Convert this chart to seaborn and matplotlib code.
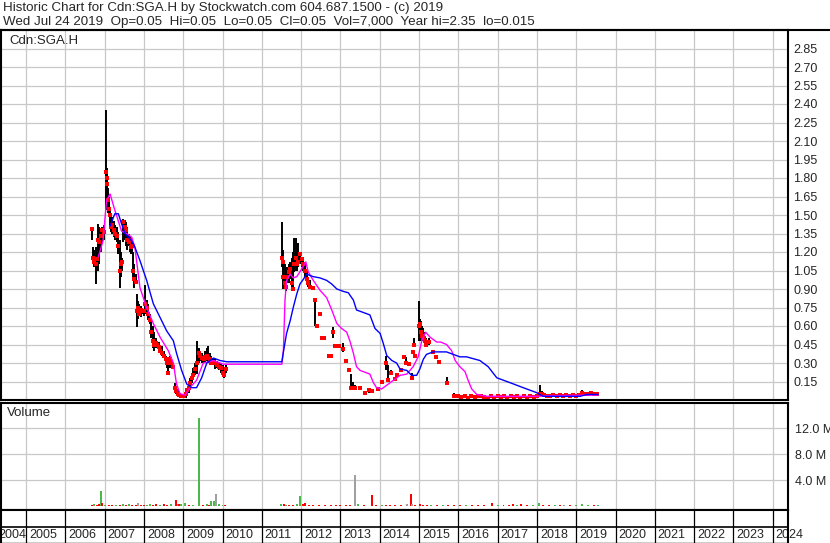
import numpy as np
import pandas as pd
import matplotlib.pyplot as plt
import seaborn as sns

# header text
title_line = "Historic Chart for Cdn:SGA.H by Stockwatch.com 604.687.1500 - (c) 2019"
quote_line = "Wed Jul 24 2019  Op=0.05  Hi=0.05  Lo=0.05  Cl=0.05  Vol=7,000  Year hi=2.35  lo=0.015"
symbol = "Cdn:SGA.H"

year_labels = [2004, 2005, 2006, 2007, 2008, 2009, 2010, 2011, 2012, 2013, 2014,
               2015, 2016, 2017, 2018, 2019, 2020, 2021, 2022, 2023, 2024]
price_ticks = [0.15, 0.30, 0.45, 0.60, 0.75, 0.90, 1.05, 1.20, 1.35, 1.50,
               1.65, 1.80, 1.95, 2.10, 2.25, 2.40, 2.55, 2.70, 2.85]
vol_ticks = [4.0, 8.0, 12.0]  # millions

# daily bars (decimal year, high, low, close)
bar_date = [2006.67, 2006.70, 2006.72, 2006.77, 2006.80, 2006.84, 2006.87, 2006.90, 2006.94, 2006.98,
            2007.03, 2007.05, 2007.07, 2007.09, 2007.11, 2007.14, 2007.17, 2007.20, 2007.23, 2007.27,
            2007.31, 2007.35, 2007.38, 2007.41, 2007.45, 2007.48, 2007.51, 2007.54, 2007.58, 2007.61,
            2007.64, 2007.67, 2007.70, 2007.73, 2007.76, 2007.79, 2007.82, 2007.85, 2007.88, 2007.92,
            2007.95, 2008.00, 2008.04, 2008.08, 2008.11, 2008.15, 2008.18, 2008.22, 2008.26, 2008.30,
            2008.34, 2008.38, 2008.42, 2008.46, 2008.50, 2008.55, 2008.58, 2008.62, 2008.66, 2008.70,
            2008.74, 2008.78, 2008.82, 2008.86, 2008.90, 2008.94, 2008.98, 2009.02, 2009.06, 2009.10,
            2009.14, 2009.18, 2009.22, 2009.26, 2009.30, 2009.35, 2009.40, 2009.44, 2009.48, 2009.52,
            2009.56, 2009.60, 2009.64, 2009.68, 2009.72, 2009.76, 2009.80, 2009.85, 2009.90, 2009.95,
            2010.00, 2010.04, 2010.08,
            2011.51, 2011.53, 2011.55, 2011.58, 2011.61, 2011.64, 2011.68, 2011.72, 2011.76, 2011.80,
            2011.83, 2011.86, 2011.89, 2011.93, 2011.97, 2012.02, 2012.06, 2012.10, 2012.14, 2012.18,
            2012.22, 2012.30, 2012.36, 2012.40, 2012.48, 2012.52, 2012.58, 2012.70, 2012.75, 2012.80,
            2012.85, 2012.96, 2013.07, 2013.13, 2013.22, 2013.27, 2013.32, 2013.38, 2013.50, 2013.63,
            2013.73, 2013.80, 2013.95, 2014.05, 2014.15, 2014.20, 2014.30, 2014.40, 2014.45, 2014.55,
            2014.62, 2014.67, 2014.74, 2014.82, 2014.86, 2014.88, 2014.90, 2015.01, 2015.03, 2015.05,
            2015.07, 2015.09, 2015.12, 2015.15, 2015.19, 2015.26, 2015.35, 2015.43, 2015.50, 2015.70,
            2015.90, 2016.00, 2016.08, 2016.16, 2016.25, 2016.33, 2016.42, 2016.50, 2016.58, 2016.66,
            2016.75, 2016.83, 2016.92, 2017.00, 2017.08, 2017.17, 2017.25, 2017.33, 2017.42, 2017.50,
            2017.58, 2017.67, 2017.75, 2017.83, 2017.92, 2018.00, 2018.08, 2018.12, 2018.17, 2018.25,
            2018.33, 2018.42, 2018.50, 2018.58, 2018.67, 2018.75, 2018.83, 2018.92, 2019.00, 2019.08,
            2019.16, 2019.22, 2019.30, 2019.38, 2019.46, 2019.54]
bar_high = [1.39, 1.24, 1.22, 1.24, 1.20, 1.43, 1.40, 1.38, 1.40, 1.42,
            2.35, 1.88, 1.80, 1.72, 1.65, 1.55, 1.52, 1.48, 1.45, 1.42,
            1.40, 1.36, 1.30, 1.20, 1.15, 1.47, 1.46, 1.44, 1.40, 1.35,
            1.32, 1.30, 1.28, 1.20, 1.10, 1.02, 0.86, 0.80, 0.78, 0.76,
            0.75, 0.74, 0.93, 0.81, 0.78, 0.70, 0.65, 0.60, 0.55, 0.50,
            0.48, 0.47, 0.45, 0.44, 0.40, 0.36, 0.32, 0.30, 0.36, 0.34,
            0.30, 0.14, 0.10, 0.08, 0.06, 0.05, 0.05, 0.04, 0.06, 0.10,
            0.14, 0.18, 0.22, 0.26, 0.30, 0.48, 0.42, 0.40, 0.38, 0.36,
            0.40, 0.42, 0.44, 0.38, 0.36, 0.34, 0.33, 0.32, 0.31, 0.30,
            0.28, 0.26, 0.28,
            1.44, 1.22, 1.15, 1.10, 1.05, 1.08, 1.10, 1.12, 1.15, 1.20,
            1.31, 1.31, 1.20, 1.27, 1.20, 1.16, 1.15, 1.12, 1.05, 1.00,
            0.97, 0.92, 0.81, 0.62, 0.70, 0.50, 0.50, 0.37, 0.37, 0.59,
            0.44, 0.44, 0.46, 0.32, 0.24, 0.21, 0.15, 0.12, 0.10, 0.06,
            0.09, 0.08, 0.09, 0.16, 0.36, 0.28, 0.24, 0.17, 0.20, 0.24,
            0.35, 0.35, 0.29, 0.22, 0.39, 0.50, 0.36, 0.80, 0.66, 0.64,
            0.60, 0.58, 0.55, 0.52, 0.50, 0.50, 0.39, 0.35, 0.31, 0.19,
            0.06, 0.035, 0.03, 0.035, 0.03, 0.04, 0.035, 0.03, 0.04, 0.035,
            0.03, 0.035, 0.03, 0.035, 0.03, 0.035, 0.03, 0.035, 0.03, 0.04,
            0.03, 0.035, 0.03, 0.035, 0.03, 0.035, 0.12, 0.07, 0.05, 0.045,
            0.04, 0.045, 0.04, 0.045, 0.04, 0.045, 0.04, 0.045, 0.04, 0.05,
            0.08, 0.06, 0.06, 0.06, 0.055, 0.055]
bar_low = [1.30, 1.10, 1.08, 0.94, 1.05, 1.05, 1.10, 1.20, 1.28, 1.30,
           1.54, 1.62, 1.58, 1.52, 1.50, 1.40, 1.36, 1.35, 1.32, 1.30,
           1.28, 1.18, 0.91, 1.00, 1.05, 1.28, 1.30, 1.25, 1.22, 1.25,
           1.20, 1.18, 1.20, 1.00, 0.91, 0.94, 0.59, 0.66, 0.68, 0.67,
           0.70, 0.68, 0.70, 0.68, 0.65, 0.62, 0.50, 0.42, 0.40, 0.42,
           0.42, 0.40, 0.38, 0.36, 0.34, 0.30, 0.26, 0.21, 0.26, 0.28,
           0.25, 0.08, 0.05, 0.04, 0.03, 0.02, 0.02, 0.015, 0.02, 0.04,
           0.06, 0.10, 0.14, 0.16, 0.20, 0.21, 0.30, 0.32, 0.30, 0.30,
           0.30, 0.32, 0.30, 0.30, 0.28, 0.28, 0.25, 0.26, 0.24, 0.22,
           0.20, 0.18, 0.22,
           1.08, 1.05, 0.90, 0.90, 0.88, 0.95, 0.95, 0.98, 0.92, 0.88,
           1.04, 1.05, 1.05, 1.08, 1.10, 1.08, 1.05, 1.00, 0.95, 0.92,
           0.90, 0.90, 0.60, 0.58, 0.70, 0.50, 0.50, 0.35, 0.35, 0.50,
           0.44, 0.44, 0.39, 0.32, 0.24, 0.09, 0.09, 0.08, 0.10, 0.06,
           0.06, 0.06, 0.09, 0.13, 0.24, 0.15, 0.20, 0.17, 0.20, 0.24,
           0.35, 0.30, 0.29, 0.17, 0.39, 0.43, 0.36, 0.48, 0.50, 0.48,
           0.48, 0.48, 0.46, 0.44, 0.44, 0.45, 0.39, 0.35, 0.30, 0.13,
           0.02, 0.02, 0.02, 0.025, 0.015, 0.02, 0.02, 0.02, 0.025, 0.02,
           0.02, 0.02, 0.015, 0.02, 0.02, 0.025, 0.015, 0.02, 0.02, 0.02,
           0.015, 0.02, 0.01, 0.02, 0.02, 0.02, 0.035, 0.03, 0.03, 0.025,
           0.02, 0.025, 0.02, 0.03, 0.02, 0.03, 0.02, 0.03, 0.03, 0.03,
           0.04, 0.045, 0.04, 0.045, 0.04, 0.045]
bar_close = [1.39, 1.15, 1.12, 1.10, 1.14, 1.30, 1.28, 1.33, 1.38, 1.36,
             1.85, 1.80, 1.75, 1.62, 1.55, 1.50, 1.40, 1.42, 1.38, 1.35,
             1.33, 1.25, 1.05, 1.10, 1.12, 1.44, 1.40, 1.38, 1.30, 1.28,
             1.30, 1.24, 1.25, 1.05, 0.98, 0.96, 0.72, 0.75, 0.70, 0.73,
             0.72, 0.72, 0.78, 0.75, 0.70, 0.65, 0.55, 0.48, 0.45, 0.46,
             0.45, 0.43, 0.40, 0.38, 0.36, 0.33, 0.30, 0.22, 0.33, 0.30,
             0.27, 0.10, 0.07, 0.05, 0.04, 0.03, 0.03, 0.03, 0.05, 0.08,
             0.10, 0.14, 0.18, 0.20, 0.25, 0.30, 0.38, 0.36, 0.34, 0.33,
             0.35, 0.36, 0.34, 0.33, 0.30, 0.31, 0.30, 0.28, 0.27, 0.26,
             0.22, 0.20, 0.25,
             1.15, 1.12, 1.00, 0.95, 0.92, 1.00, 1.04, 1.06, 0.95, 0.90,
             1.10, 1.15, 1.10, 1.12, 1.18, 1.14, 1.10, 1.05, 0.98, 0.95,
             0.92, 0.91, 0.81, 0.60, 0.70, 0.50, 0.50, 0.36, 0.36, 0.55,
             0.44, 0.44, 0.41, 0.32, 0.24, 0.10, 0.10, 0.10, 0.10, 0.06,
             0.08, 0.07, 0.09, 0.15, 0.30, 0.16, 0.22, 0.17, 0.20, 0.24,
             0.35, 0.30, 0.29, 0.18, 0.39, 0.45, 0.36, 0.60, 0.62, 0.55,
             0.52, 0.50, 0.50, 0.48, 0.45, 0.47, 0.39, 0.35, 0.31, 0.14,
             0.03, 0.03, 0.025, 0.03, 0.02, 0.03, 0.025, 0.03, 0.03, 0.025,
             0.02, 0.03, 0.02, 0.03, 0.025, 0.03, 0.02, 0.03, 0.025, 0.03,
             0.02, 0.03, 0.02, 0.03, 0.025, 0.03, 0.05, 0.05, 0.04, 0.035,
             0.03, 0.04, 0.03, 0.04, 0.03, 0.04, 0.03, 0.04, 0.035, 0.04,
             0.06, 0.05, 0.05, 0.055, 0.05, 0.05]

# short moving average (magenta)
ma_short_date = [2006.84, 2006.96, 2007.05, 2007.14, 2007.26, 2007.43, 2007.56, 2007.69, 2007.77, 2007.90,
                 2008.07, 2008.24, 2008.41, 2008.62, 2008.75, 2008.83, 2008.92, 2009.05, 2009.17, 2009.34,
                 2009.51, 2009.77, 2010.02, 2010.11, 2011.51, 2011.55, 2011.59, 2011.63, 2011.72, 2011.80,
                 2011.89, 2012.01, 2012.12, 2012.18, 2012.31, 2012.48, 2012.65, 2012.78, 2012.91, 2013.03,
                 2013.16, 2013.24, 2013.33, 2013.41, 2013.50, 2013.75, 2013.84, 2013.92, 2014.05, 2014.18,
                 2014.35, 2014.52, 2014.69, 2014.85, 2014.98, 2015.07, 2015.17, 2015.28, 2015.45, 2015.55,
                 2015.70, 2015.83, 2015.92, 2016.04, 2016.17, 2016.25, 2016.34, 2016.47, 2016.72, 2018.08,
                 2018.25, 2019.56]
ma_short = [1.16, 1.29, 1.62, 1.67, 1.54, 1.37, 1.35, 1.32, 1.24, 0.91,
            0.75, 0.62, 0.51, 0.40, 0.30, 0.13, 0.05, 0.04, 0.10, 0.16,
            0.30, 0.32, 0.29, 0.29, 0.29, 0.40, 0.81, 0.97, 1.02, 0.99,
            1.00, 1.06, 1.12, 1.04, 0.97, 0.89, 0.83, 0.73, 0.62, 0.58,
            0.55, 0.48, 0.38, 0.27, 0.24, 0.21, 0.14, 0.10, 0.09, 0.12,
            0.16, 0.20, 0.21, 0.27, 0.35, 0.48, 0.55, 0.51, 0.47, 0.47,
            0.45, 0.40, 0.32, 0.27, 0.23, 0.16, 0.09, 0.045, 0.03, 0.03,
            0.035, 0.04]

# long moving average (blue)
ma_long_date = [2007.14, 2007.26, 2007.35, 2007.43, 2007.52, 2007.69, 2007.77, 2007.90, 2008.07, 2008.24,
                2008.41, 2008.58, 2008.75, 2008.83, 2008.96, 2009.09, 2009.21, 2009.34, 2009.47, 2009.60,
                2009.77, 2009.94, 2010.11, 2011.51, 2011.55, 2011.63, 2011.72, 2011.80, 2011.89, 2011.97,
                2012.06, 2012.14, 2012.31, 2012.48, 2012.65, 2012.78, 2012.91, 2013.08, 2013.20, 2013.33,
                2013.41, 2013.58, 2013.75, 2013.88, 2014.01, 2014.09, 2014.18, 2014.31, 2014.43, 2014.52,
                2014.69, 2014.81, 2014.94, 2015.02, 2015.11, 2015.19, 2015.36, 2015.70, 2015.87, 2016.04,
                2016.21, 2016.55, 2016.76, 2016.98, 2017.32, 2017.65, 2017.99, 2018.16, 2019.10, 2019.27,
                2019.56]
ma_long = [1.41, 1.51, 1.51, 1.43, 1.35, 1.29, 1.24, 1.13, 0.97, 0.78,
           0.67, 0.56, 0.48, 0.38, 0.24, 0.13, 0.10, 0.10, 0.18, 0.30,
           0.34, 0.32, 0.31, 0.31, 0.39, 0.54, 0.64, 0.75, 0.86, 0.94,
           0.98, 1.02, 1.00, 0.99, 0.97, 0.94, 0.90, 0.88, 0.87, 0.81,
           0.73, 0.71, 0.69, 0.58, 0.54, 0.46, 0.36, 0.32, 0.30, 0.25,
           0.24, 0.20, 0.20, 0.25, 0.33, 0.37, 0.39, 0.39, 0.37, 0.35,
           0.35, 0.32, 0.27, 0.18, 0.14, 0.10, 0.06, 0.03, 0.03, 0.045,
           0.045]

# volume (millions of shares); u = up day, d = down day, f = unchanged
vol_date = [2006.68, 2006.74, 2006.80, 2006.86, 2006.90, 2006.93, 2007.00, 2007.10, 2007.20, 2007.30,
            2007.40, 2007.46, 2007.55, 2007.62, 2007.70, 2007.80, 2007.84, 2007.92, 2008.00, 2008.08,
            2008.15, 2008.22, 2008.30, 2008.40, 2008.50, 2008.60, 2008.70, 2008.82, 2008.86, 2008.90,
            2008.95, 2009.05, 2009.15, 2009.25, 2009.39, 2009.50, 2009.60, 2009.66, 2009.70, 2009.78,
            2009.84, 2009.90, 2010.00, 2010.06,
            2011.50, 2011.56, 2011.62, 2011.70, 2011.80, 2011.90, 2011.97, 2012.04, 2012.10, 2012.20,
            2012.30, 2012.45, 2012.60, 2012.75, 2012.90, 2013.00, 2013.15, 2013.25, 2013.36, 2013.45,
            2013.60, 2013.81, 2013.90, 2014.05, 2014.15, 2014.25, 2014.40, 2014.55, 2014.70, 2014.79,
            2014.83, 2014.90, 2015.02, 2015.10, 2015.20, 2015.30, 2015.45, 2015.60, 2015.75, 2015.90,
            2016.05, 2016.20, 2016.35, 2016.50, 2016.65, 2016.86, 2017.00, 2017.15, 2017.30, 2017.40,
            2017.50, 2017.60, 2017.75, 2017.90, 2018.06, 2018.15, 2018.30, 2018.45, 2018.60, 2018.70,
            2018.85, 2019.00, 2019.15, 2019.30, 2019.45, 2019.55]
vol_m = [0.25, 0.30, 0.20, 0.30, 2.35, 0.45, 0.25, 0.20, 0.25, 0.20,
         0.25, 0.40, 0.20, 0.30, 0.20, 0.25, 0.50, 0.20, 0.25, 0.20,
         0.40, 0.25, 0.30, 0.20, 0.30, 0.25, 0.30, 0.95, 0.40, 0.30,
         0.40, 0.45, 0.25, 0.20, 13.6, 0.20, 0.30, 0.25, 0.80, 0.80,
         1.90, 0.35, 0.25, 0.20,
         0.40, 0.30, 0.20, 0.25, 0.20, 0.35, 1.60, 0.30, 0.45, 0.20,
         0.25, 0.20, 0.20, 0.20, 0.20, 0.20, 0.20, 0.25, 4.80, 0.30,
         0.20, 1.75, 0.25, 0.25, 0.20, 0.20, 0.25, 0.20, 0.30, 1.90,
         0.40, 0.25, 0.35, 0.25, 0.20, 0.20, 0.20, 0.20, 0.20, 0.20,
         0.20, 0.20, 0.20, 0.20, 0.20, 0.50, 0.20, 0.20, 0.25, 0.35,
         0.25, 0.30, 0.20, 0.25, 0.55, 0.25, 0.20, 0.25, 0.20, 0.25,
         0.20, 0.25, 0.30, 0.25, 0.20, 0.20]
vol_dir = ["d", "u", "d", "d", "u", "d", "u", "d", "d", "u",
           "d", "u", "d", "u", "d", "d", "f", "d", "d", "u",
           "u", "d", "d", "u", "d", "d", "u", "d", "f", "d",
           "u", "u", "d", "u", "u", "d", "u", "d", "u", "u",
           "f", "u", "u", "d",
           "u", "d", "u", "d", "d", "u", "u", "d", "d", "d",
           "d", "d", "d", "d", "d", "d", "d", "d", "f", "u",
           "d", "d", "d", "u", "d", "d", "d", "d", "f", "d",
           "f", "d", "d", "d", "d", "u", "d", "u", "d", "d",
           "d", "u", "d", "d", "d", "d", "u", "d", "d", "d",
           "u", "d", "d", "u", "u", "d", "d", "u", "d", "f",
           "d", "u", "u", "u", "d", "u"]
vol_colors = {"u": "#4cb84c", "d": "#ff0000", "f": "#a0a0a0"}

bars = pd.DataFrame({"date": bar_date, "high": bar_high, "low": bar_low, "close": bar_close})
ma_s = pd.DataFrame({"date": ma_short_date, "value": ma_short})
ma_l = pd.DataFrame({"date": ma_long_date, "value": ma_long})
vol = pd.DataFrame({"date": vol_date, "vol": vol_m, "dir": vol_dir})

sns.set_style("white")
plt.rcParams["font.family"] = ["Liberation Sans", "DejaVu Sans"]

W, H = 830, 543
fig = plt.figure(figsize=(W / 100, H / 100), dpi=100)


def box(x0, y0, x1, y1):
    # pixel box (top-left origin) -> figure fraction rect
    return [x0 / W, 1 - y1 / H, (x1 - x0) / W, (y1 - y0) / H]


ax = fig.add_axes(box(1, 30, 788, 400))
axv = fig.add_axes(box(1, 403, 788, 510))
axx = fig.add_axes(box(1, 510, 788, 543))

px_per_year = 39.3
x_lo = 2005 + (1 - 26) / px_per_year
x_hi = 2005 + (788 - 26) / px_per_year
grid_c = "#c8c8c8"
grid_years = year_labels[1:]

# ---- price panel
ax.vlines(grid_years, 0, 3.0, color=grid_c, lw=0.9, zorder=1)
ax.hlines(price_ticks, x_lo, x_hi, color=grid_c, lw=0.9, zorder=1)
ax.vlines(bars["date"], bars["low"], bars["high"], color="black", lw=1.4, zorder=3)
sns.scatterplot(data=bars, x="date", y="close", marker="s", s=5, color="red",
                linewidth=0, ax=ax, zorder=4)
sns.lineplot(data=ma_s, x="date", y="value", color="#ff00ff", lw=1.0, ax=ax, zorder=5)
sns.lineplot(data=ma_l, x="date", y="value", color="#0000ff", lw=1.0, ax=ax, zorder=5)

ax.set_xlim(x_lo, x_hi)
ax.set_ylim(0, 3.0)
ax.set_xticks([])
ax.set_yticks(price_ticks)
ax.set_yticklabels([f"{t:.2f}" for t in price_ticks])
ax.yaxis.tick_right()
ax.tick_params(axis="y", length=0, pad=4, labelsize=9)
ax.set_xlabel("")
ax.set_ylabel("")
ax.text(8 / 787, 1 - 11 / 370, symbol, transform=ax.transAxes, fontsize=9.5, va="center", ha="left")

# ---- volume panel
axv.set_xlim(x_lo, x_hi)
axv.set_ylim(-0.57, 15.89)
axv.vlines(grid_years, -0.57, 15.89, color=grid_c, lw=0.9, zorder=1)
axv.hlines(vol_ticks, x_lo, x_hi, color=grid_c, lw=0.9, zorder=1)
axv.bar(vol["date"], vol["vol"], width=0.05, linewidth=0,
        color=[vol_colors[d] for d in vol["dir"]], zorder=3)
axv.set_xticks([])
axv.set_yticks(vol_ticks)
axv.set_yticklabels([f"{t:.1f} M" for t in vol_ticks])
axv.yaxis.tick_right()
axv.tick_params(axis="y", length=0, pad=5, labelsize=9)
axv.text(6 / 787, 1 - 10 / 107, "Volume", transform=axv.transAxes, fontsize=9.5, va="center", ha="left")

# ---- year band
axx.set_xlim(x_lo, x_hi)
axx.set_ylim(0, 1)
axx.set_xticks([])
axx.set_yticks([])
axx.vlines(grid_years, 0, 1, color="black", lw=0.9)
axx.axhline((543 - 527) / 33, color="black", lw=1.2)
for yr in year_labels:
    xpos = yr + 3 / px_per_year
    if yr == 2004:
        xpos = 2005 + (-2 - 26) / px_per_year
    axx.text(xpos, (543 - 535) / 33, str(yr), fontsize=9, ha="left", va="center", clip_on=False, zorder=1)

for a in (ax, axv, axx):
    for side, sp in a.spines.items():
        sp.set_color("black")
        sp.set_linewidth(1.5)
        sp.set_zorder(10)
axx.spines["bottom"].set_linewidth(1.0)

# header
fig.text(3 / W, 1 - 8 / H, title_line, fontsize=9.6, va="center", ha="left")
fig.text(3 / W, 1 - 22 / H, quote_line, fontsize=9.6, va="center", ha="left")
fig.add_artist(plt.Line2D([0, 1], [1 - 30 / H, 1 - 30 / H], color="black", lw=1.5, transform=fig.transFigure))

fig.savefig("out.png", dpi=100, facecolor="white")
